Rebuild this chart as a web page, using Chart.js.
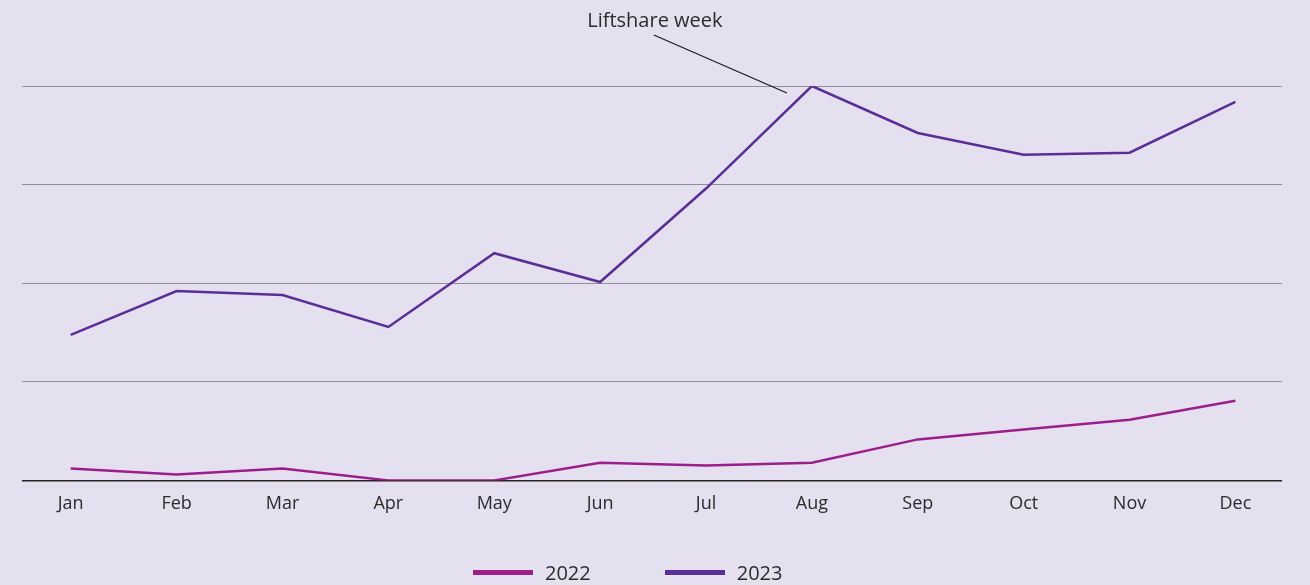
<!DOCTYPE html>
<html lang="en">
<head>
    <meta charset="UTF-8">
    <title>Liftshare trips</title>
    <script src="https://cdn.jsdelivr.net/npm/chart.js"></script>
    <style>
        body { margin: 0; background: #e4e0ef; font-family: "Open Sans", "Noto Sans", sans-serif; }
        #wrap { position: relative; width: 1310px; height: 585px; }
        #legend {
            position: absolute; left: 473px; top: 559px;
            display: flex; gap: 74px;
            font-size: 20px; font-weight: 500; color: #2b2b2b;
        }
        .item { display: flex; align-items: center; }
        .swatch { width: 60px; height: 5px; margin-right: 12px; }
    </style>
</head>
<body>
<div id="wrap">
    <canvas id="chart" width="1310" height="585"></canvas>
    <div id="legend"></div>
</div>
<script>
    const months = ['Jan', 'Feb', 'Mar', 'Apr', 'May', 'Jun', 'Jul', 'Aug', 'Sep', 'Oct', 'Nov', 'Dec'];
    const series2022 = [3.0, 1.5, 3.0, 0, 0, 4.5, 3.8, 4.5, 10.4, 12.9, 15.4, 20.2];
    const series2023 = [36.9, 48.0, 47.0, 38.9, 57.6, 50.3, 74.0, 100, 88.1, 82.6, 83.1, 96.0];
    const seriesNames = ['2022', '2023'];
    const seriesColors = ['#9b1e8a', '#5b2e96'];
    const noteText = 'Liftshare week';
    const noteIndex = 7; // Aug

    const toPoints = arr => arr.map((v, i) => ({ x: i, y: v }));

    // callout above the August peak
    const notePlugin = {
        id: 'note',
        afterDatasetsDraw(chart) {
            const c = chart.ctx;
            const pt = chart.getDatasetMeta(1).data[noteIndex];
            c.save();
            c.strokeStyle = '#1a1a1a';
            c.lineWidth = 1.2;
            c.beginPath();
            c.moveTo(pt.x - 158, pt.y - 51);
            c.lineTo(pt.x - 25, pt.y + 7);
            c.stroke();
            c.fillStyle = '#2b2b2b';
            c.font = '500 20px "Open Sans", "Noto Sans", sans-serif';
            c.textAlign = 'center';
            c.textBaseline = 'middle';
            c.fillText(noteText, pt.x - 157, pt.y - 65);
            c.restore();
        }
    };

    new Chart(document.getElementById('chart'), {
        type: 'line',
        data: {
            datasets: [
                { label: seriesNames[0], data: toPoints(series2022), borderColor: seriesColors[0], borderWidth: 2.5 },
                { label: seriesNames[1], data: toPoints(series2023), borderColor: seriesColors[1], borderWidth: 2.5 }
            ]
        },
        options: {
            responsive: false,
            animation: false,
            elements: { point: { radius: 0 }, line: { tension: 0 } },
            layout: { padding: { left: 22, right: 28, top: 86, bottom: 57 } },
            plugins: { legend: { display: false }, tooltip: { enabled: false } },
            scales: {
                x: {
                    type: 'linear',
                    min: -0.46,
                    max: 11.44,
                    afterBuildTicks: axis => { axis.ticks = months.map((_, i) => ({ value: i })); },
                    grid: { display: false, drawTicks: false },
                    border: { display: false },
                    ticks: {
                        padding: 13,
                        color: '#2b2b2b',
                        font: { size: 18, weight: 500, family: '"Open Sans", "Noto Sans", sans-serif' },
                        callback: v => months[v]
                    }
                },
                y: {
                    min: 0,
                    max: 100,
                    ticks: { stepSize: 25, display: false },
                    grid: {
                        drawTicks: false,
                        color: ctx => ctx.tick.value === 0 ? '#222222' : '#8e8e9c',
                        lineWidth: ctx => ctx.tick.value === 0 ? 1.5 : 1
                    },
                    border: { display: false }
                }
            }
        },
        plugins: [notePlugin]
    });

    const legend = document.getElementById('legend');
    seriesNames.forEach((name, i) => {
        const item = document.createElement('div');
        item.className = 'item';
        item.innerHTML = '<span class="swatch" style="background:' + seriesColors[i] + '"></span>' + name;
        legend.appendChild(item);
    });
</script>
</body>
</html>
